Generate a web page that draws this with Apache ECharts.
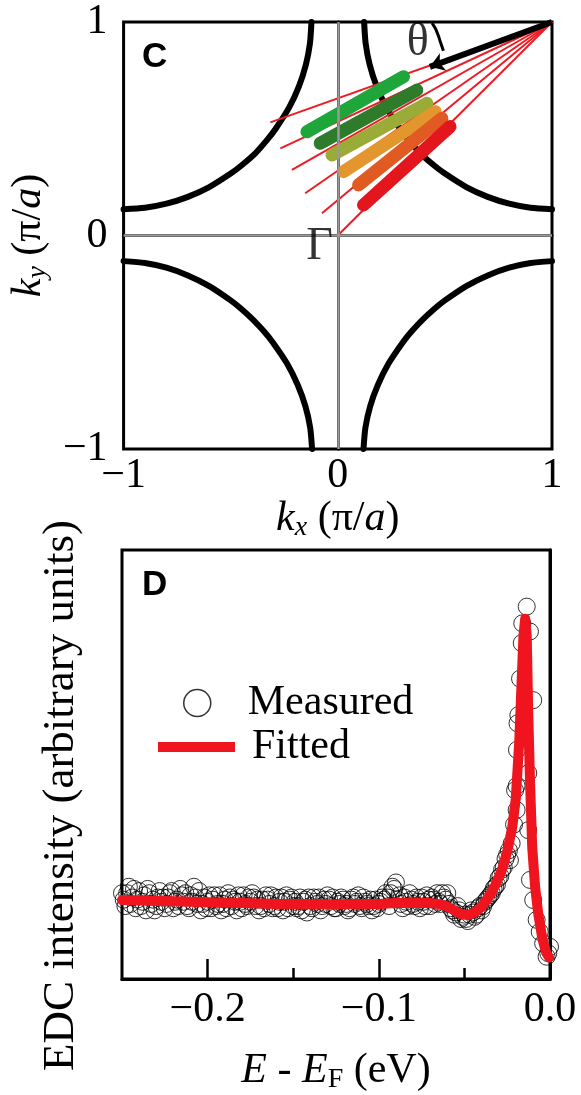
<!DOCTYPE html>
<html><head><meta charset="utf-8">
<script src="https://cdn.jsdelivr.net/npm/echarts@6/dist/echarts.min.js"></script>
<style>html,body{margin:0;padding:0;background:#fff}#c{width:581px;height:1095px}</style>
</head><body><div id="c"></div>
<script>
// ---------- Panel C data ----------
const kTicks = [-1, 0, 1];
const kTickLabels = ['\u22121', '0', '1'];
const arcUpperLeft = [[-1,0.123],[-0.9,0.13],[-0.8,0.149],[-0.7,0.181],[-0.6,0.227],[-0.5,0.29],[-0.45,0.328],[-0.385,0.385],[-0.328,0.45],[-0.29,0.5],[-0.227,0.6],[-0.181,0.7],[-0.149,0.8],[-0.13,0.9],[-0.123,1]];
const arcUpperRight = [[1,0.123],[0.9,0.13],[0.8,0.149],[0.7,0.181],[0.6,0.227],[0.5,0.29],[0.45,0.328],[0.385,0.385],[0.328,0.45],[0.29,0.5],[0.227,0.6],[0.181,0.7],[0.149,0.8],[0.13,0.9],[0.123,1]];
const arcLowerLeft = [[-1,-0.12],[-0.9,-0.129],[-0.8,-0.151],[-0.7,-0.187],[-0.6,-0.237],[-0.5,-0.304],[-0.45,-0.344],[-0.395,-0.395],[-0.344,-0.45],[-0.304,-0.5],[-0.237,-0.6],[-0.187,-0.7],[-0.151,-0.8],[-0.129,-0.9],[-0.12,-1]];
const arcLowerRight = [[1,-0.12],[0.9,-0.129],[0.8,-0.151],[0.7,-0.187],[0.6,-0.237],[0.5,-0.304],[0.45,-0.344],[0.395,-0.395],[0.344,-0.45],[0.304,-0.5],[0.237,-0.6],[0.187,-0.7],[0.151,-0.8],[0.129,-0.9],[0.12,-1]];
const cutOrigin = [1, 1];
const cutEnds = [[-0.315,0.53],[-0.268,0.408],[-0.214,0.307],[-0.152,0.198],[-0.074,0.104],[0,0]];
const bandStarts = [[-0.144,0.486],[-0.082,0.432],[-0.027,0.377],[0.027,0.299],[0.097,0.237],[0.12,0.143]];
const bandEnds = [[0.307,0.744],[0.369,0.681],[0.416,0.619],[0.455,0.58],[0.486,0.549],[0.524,0.51]];
const bandColors = ['#1fa63a','#2e7b2c','#9bab38','#e3962e','#e05a22','#e3161e'];
const zeroLines = [[[0,-1],[0,1]],[[-1,0],[1,0]]];
const thetaArrow = [[1,1],[0.43,0.79]];
const thetaArc = [[0.44,0.995],[0.457,0.968],[0.47,0.935],[0.481,0.9],[0.493,0.865]];
const annotations = [{text:'\u0393', at:[-0.085,-0.055]}, {text:'\u03b8', at:[0.373,0.9]}];

// ---------- Panel D data ----------
const eTicksMajor = [-0.2, -0.1, 0.0];
const eTickLabels = ['\u22120.2', '\u22120.1', '0.0'];
const eTicksMinor = [-0.15, -0.05];
const measured = [
[-0.250,0.20],[-0.248,0.17],[-0.246,0.215],[-0.244,0.19],[-0.242,0.165],[-0.240,0.205],[-0.238,0.18],[-0.236,0.16],[-0.234,0.2],[-0.232,0.185],
[-0.230,0.17],[-0.228,0.205],[-0.226,0.19],[-0.224,0.175],[-0.222,0.2],[-0.220,0.165],[-0.218,0.185],[-0.216,0.21],[-0.214,0.18],[-0.212,0.17],
[-0.210,0.195],[-0.208,0.215],[-0.206,0.175],[-0.204,0.16],[-0.202,0.19],[-0.200,0.18],[-0.198,0.165],[-0.196,0.195],[-0.194,0.175],[-0.192,0.16],
[-0.190,0.185],[-0.188,0.2],[-0.186,0.17],[-0.184,0.18],[-0.182,0.195],[-0.180,0.165],[-0.178,0.175],[-0.176,0.19],[-0.174,0.2],[-0.172,0.17],
[-0.170,0.16],[-0.168,0.185],[-0.166,0.195],[-0.164,0.175],[-0.162,0.165],[-0.160,0.19],[-0.158,0.18],[-0.156,0.16],[-0.154,0.195],[-0.152,0.185],
[-0.150,0.17],[-0.148,0.165],[-0.146,0.19],[-0.144,0.18],[-0.142,0.155],[-0.140,0.17],[-0.138,0.19],[-0.136,0.175],[-0.134,0.16],[-0.132,0.185],
[-0.130,0.195],[-0.128,0.17],[-0.126,0.165],[-0.124,0.18],[-0.122,0.19],[-0.120,0.17],[-0.118,0.16],[-0.116,0.185],[-0.114,0.175],[-0.112,0.195],
[-0.110,0.165],[-0.108,0.18],[-0.106,0.17],[-0.104,0.16],[-0.102,0.185],[-0.100,0.175],[-0.098,0.19],[-0.096,0.2],[-0.094,0.17],[-0.092,0.215],
[-0.090,0.225],[-0.088,0.195],[-0.086,0.165],[-0.084,0.18],[-0.082,0.2],[-0.080,0.175],[-0.078,0.19],[-0.076,0.165],[-0.074,0.18],[-0.072,0.195],
[-0.070,0.17],[-0.068,0.185],[-0.066,0.2],[-0.064,0.175],[-0.062,0.19],[-0.060,0.2],[-0.058,0.165],[-0.056,0.15],[-0.054,0.17],[-0.052,0.14],
[-0.050,0.15],[-0.048,0.135],[-0.046,0.16],[-0.044,0.145],[-0.042,0.165],[-0.040,0.16],[-0.038,0.18],[-0.036,0.19],[-0.034,0.2],[-0.032,0.215],
[-0.249,0.185],[-0.247,0.2],[-0.245,0.175],[-0.243,0.21],[-0.241,0.185],[-0.239,0.17],[-0.237,0.195],[-0.235,0.21],[-0.233,0.175],[-0.231,0.16],
[-0.229,0.19],[-0.227,0.18],[-0.225,0.165],[-0.223,0.19],[-0.221,0.205],[-0.219,0.18],[-0.217,0.17],[-0.215,0.195],[-0.213,0.2],[-0.211,0.165],
[-0.209,0.18],[-0.207,0.19],[-0.205,0.205],[-0.203,0.175],[-0.201,0.165],[-0.199,0.195],[-0.197,0.185],[-0.195,0.17],[-0.193,0.195],[-0.191,0.175],
[-0.189,0.165],[-0.187,0.19],[-0.185,0.185],[-0.183,0.16],[-0.181,0.18],[-0.179,0.195],[-0.177,0.17],[-0.175,0.18],[-0.173,0.19],[-0.171,0.185],
[-0.169,0.17],[-0.167,0.165],[-0.165,0.185],[-0.163,0.195],[-0.161,0.17],[-0.159,0.165],[-0.157,0.19],[-0.155,0.18],[-0.153,0.165],[-0.151,0.19],
[-0.149,0.18],[-0.147,0.17],[-0.145,0.16],[-0.143,0.185],[-0.141,0.19],[-0.139,0.165],[-0.137,0.18],[-0.135,0.19],[-0.133,0.17],[-0.131,0.175],
[-0.129,0.185],[-0.127,0.19],[-0.125,0.165],[-0.123,0.175],[-0.121,0.185],[-0.119,0.175],[-0.117,0.165],[-0.115,0.19],[-0.113,0.18],[-0.111,0.17],
[-0.109,0.19],[-0.107,0.175],[-0.105,0.185],[-0.103,0.17],[-0.101,0.165],[-0.099,0.18],[-0.097,0.185],[-0.095,0.19],[-0.093,0.2],[-0.091,0.21],
[-0.089,0.185],[-0.087,0.175],[-0.085,0.19],[-0.083,0.17],[-0.081,0.185],[-0.079,0.17],[-0.077,0.18],[-0.075,0.19],[-0.073,0.17],[-0.071,0.185],
[-0.069,0.19],[-0.067,0.175],[-0.065,0.18],[-0.063,0.2],[-0.061,0.185],[-0.059,0.175],[-0.057,0.16],[-0.055,0.155],[-0.053,0.16],[-0.051,0.145],
[-0.049,0.14],[-0.047,0.15],[-0.045,0.155],[-0.043,0.15],[-0.041,0.17],[-0.039,0.17],[-0.037,0.185],[-0.035,0.195],[-0.033,0.21],
[-0.031,0.22],[-0.030,0.235],[-0.029,0.24],[-0.028,0.255],[-0.027,0.26],[-0.026,0.28],[-0.025,0.29],[-0.024,0.3],[-0.0234,0.277],[-0.0224,0.316],
[-0.021,0.36],[-0.0204,0.44],[-0.0195,0.394],[-0.0195,0.45],[-0.0193,0.534],[-0.019,0.596],[-0.0185,0.615],[-0.0175,0.70],[-0.0165,0.783],[-0.0162,0.829],
[-0.0136,0.868],[-0.0117,0.81],[-0.0098,0.65],[-0.0127,0.48],[-0.0127,0.347],[-0.0117,0.231],[-0.0098,0.184],[-0.0078,0.138],[-0.006,0.11],[-0.004,0.083],
[-0.002,0.052],[-0.001,0.06],[0.0,0.075]
];
const fitted = [
[-0.25,0.184],[-0.24,0.183],[-0.23,0.182],[-0.22,0.181],[-0.21,0.18],[-0.20,0.179],[-0.19,0.178],[-0.18,0.177],[-0.17,0.176],[-0.16,0.175],
[-0.15,0.175],[-0.14,0.174],[-0.13,0.174],[-0.12,0.174],[-0.11,0.175],[-0.10,0.175],[-0.09,0.177],[-0.08,0.178],[-0.07,0.177],[-0.064,0.174],
[-0.06,0.169],[-0.056,0.16],[-0.052,0.151],[-0.048,0.149],[-0.044,0.155],[-0.04,0.168],[-0.036,0.19],[-0.032,0.218],[-0.028,0.255],[-0.025,0.297],
[-0.022,0.355],[-0.020,0.42],[-0.018,0.55],[-0.0165,0.7],[-0.0155,0.8],[-0.0145,0.84],[-0.0136,0.8],[-0.0127,0.62],[-0.0117,0.464],[-0.0104,0.308],
[-0.0087,0.215],[-0.0069,0.153],[-0.0045,0.095],[-0.0023,0.062],[-0.0005,0.05]
];

const SERIF = 'Liberation Serif';
const SANS = 'Liberation Sans';
const FS = 42;
const chart = echarts.init(document.getElementById('c'), null, {renderer: 'canvas'});

function richSet(subPad) {
  return {
    i: {fontFamily: SERIF, fontSize: FS, fontStyle: 'italic', color: '#000'},
    n: {fontFamily: SERIF, fontSize: FS, color: '#000'},
    t: {fontFamily: SERIF, fontSize: 45, fontWeight: 'normal', color: '#000'},
    gap: {width: 62},
    s: {fontFamily: SERIF, fontSize: 28, fontStyle: 'italic', color: '#000', padding: [subPad, 0, 0, 0]},
    f: {fontFamily: SERIF, fontSize: 28, color: '#000', padding: [subPad, 0, 0, 0]}
  };
}

const arcSeries = [arcUpperLeft, arcUpperRight, arcLowerLeft, arcLowerRight].map(a => ({
  type: 'line', xAxisIndex: 0, yAxisIndex: 0, data: a, smooth: 0.25, symbol: 'none', z: 2,
  lineStyle: {color: '#000', width: 6, cap: 'round', join: 'round'}, silent: true
}));

const option = {
  animation: false,
  backgroundColor: '#fff',
  title: [
    {text: 'C', left: 137, top: 35, textStyle: {fontFamily: SANS, fontWeight: 'bold', fontSize: 35, color: '#000'}},
    {text: 'D', left: 137, top: 563, textStyle: {fontFamily: SANS, fontWeight: 'bold', fontSize: 35, color: '#000'}}
  ],
  legend: [
    {data: [{name: 'Measured', icon: 'circle', itemStyle: {color: 'rgba(0,0,0,0)', borderColor: '#000', borderWidth: 1.5}}],
     left: 178, top: 677, itemWidth: 27, itemHeight: 27, selectedMode: false,
     textStyle: {fontFamily: SERIF, fontSize: FS, color: '#000', padding: [0, 0, 0, 32]}},
    {data: [{name: 'Fitted', icon: 'rect', itemStyle: {color: '#f0141e'}}],
     left: 153, top: 721, itemWidth: 77, itemHeight: 10, selectedMode: false,
     textStyle: {fontFamily: SERIF, fontSize: FS, color: '#000', padding: [0, 0, 0, 12]}}
  ],
  grid: [
    {left: 123, top: 22, width: 429, height: 427, show: true, borderColor: '#000', borderWidth: 3, backgroundColor: 'transparent'},
    {left: 122, top: 550, width: 428, height: 429, show: true, borderColor: '#000', borderWidth: 3, backgroundColor: 'transparent'}
  ],
  xAxis: [
    {gridIndex: 0, type: 'value', min: kTicks[0], max: kTicks[2], interval: 1,
     axisLine: {show: true, lineStyle: {color: '#000', width: 3}}, axisTick: {show: false}, splitLine: {show: false},
     axisLabel: {fontFamily: SERIF, fontSize: FS, color: '#000', margin: 6, formatter: v => kTickLabels[kTicks.indexOf(v)]},
     name: '{i|k}{s|x}{n| (\u03c0/}{i|a}{n|)}', nameLocation: 'middle', nameGap: 46,
     nameTextStyle: {fontFamily: SERIF, fontSize: FS, color: '#000', rich: richSet(18)}},
    {gridIndex: 1, type: 'value', min: -0.25, max: 0,
     axisLine: {show: true, lineStyle: {color: '#000', width: 3}},
     axisTick: {show: true, inside: true, length: 20, customValues: eTicksMajor, lineStyle: {color: '#000', width: 2.5}},
     splitLine: {show: false},
     axisLabel: {fontFamily: SERIF, fontSize: FS, color: '#000', margin: 10, customValues: eTicksMajor,
                 formatter: v => eTickLabels[eTicksMajor.findIndex(t => Math.abs(t - v) < 1e-9)]},
     name: '{i|E}{n| - }{i|E}{f|F}{n| (eV)}', nameLocation: 'middle', nameGap: 69,
     nameTextStyle: {fontFamily: SERIF, fontSize: FS, color: '#000', rich: richSet(18)}},
    {gridIndex: 1, type: 'value', min: -0.25, max: 0, position: 'bottom',
     axisLine: {show: false}, axisLabel: {show: false}, splitLine: {show: false},
     axisTick: {show: true, inside: true, length: 11, customValues: eTicksMinor, lineStyle: {color: '#000', width: 2.5}}}
  ],
  yAxis: [
    {gridIndex: 0, type: 'value', min: kTicks[0], max: kTicks[2], interval: 1,
     axisLine: {show: true, lineStyle: {color: '#000', width: 3}}, axisTick: {show: false}, splitLine: {show: false},
     axisLabel: {fontFamily: SERIF, fontSize: FS, color: '#000', margin: 16, formatter: v => kTickLabels[kTicks.indexOf(v)]},
     name: '{i|k}{s|y}{n| (\u03c0/}{i|a}{n|)}', nameLocation: 'middle', nameGap: 28,
     nameTextStyle: {fontFamily: SERIF, fontSize: FS, color: '#000', rich: richSet(18)}},
    {gridIndex: 1, type: 'value', min: 0, max: 1,
     axisLine: {show: true, lineStyle: {color: '#000', width: 3}}, axisTick: {show: false}, splitLine: {show: false},
     axisLabel: {show: false},
     name: '{t|EDC intensity (arbitrary units)}{gap|}', nameLocation: 'middle', nameGap: 38,
     nameTextStyle: {fontFamily: SERIF, fontSize: 45, color: '#000', rich: richSet(18)}}
  ],
  series: [
    ...arcSeries,
    {type: 'lines', coordinateSystem: 'cartesian2d', xAxisIndex: 0, yAxisIndex: 0, z: 3, silent: true,
     lineStyle: {color: '#ee1b24', width: 2, opacity: 1},
     data: cutEnds.map(e => ({coords: [cutOrigin, e]}))},
    {type: 'lines', coordinateSystem: 'cartesian2d', xAxisIndex: 0, yAxisIndex: 0, z: 4, silent: true,
     lineStyle: {width: 13, opacity: 1, cap: 'round'},
     data: bandStarts.map((s, i) => ({coords: [s, bandEnds[i]], lineStyle: {color: bandColors[i], width: 13, opacity: 1, cap: 'round'}}))},
    {type: 'lines', coordinateSystem: 'cartesian2d', xAxisIndex: 0, yAxisIndex: 0, z: 5, silent: true,
     lineStyle: {color: '#9a9a9a', width: 2.5, opacity: 1},
     data: zeroLines.map(c => ({coords: c}))},
    {type: 'lines', coordinateSystem: 'cartesian2d', xAxisIndex: 0, yAxisIndex: 0, z: 6, silent: true,
     symbol: ['none', 'arrow'], symbolSize: 14,
     lineStyle: {color: '#000', width: 6, opacity: 1},
     data: [{coords: thetaArrow}]},
    {type: 'lines', coordinateSystem: 'cartesian2d', xAxisIndex: 0, yAxisIndex: 0, z: 6, silent: true, polyline: true,
     symbol: ['none', 'arrow'], symbolSize: 12,
     lineStyle: {color: '#000', width: 3, opacity: 1},
     data: [{coords: thetaArc}]},
    {type: 'scatter', xAxisIndex: 0, yAxisIndex: 0, z: 7, silent: true, symbolSize: 1,
     itemStyle: {color: 'rgba(0,0,0,0)'},
     label: {show: true, position: 'inside', formatter: p => p.data.name, fontFamily: SERIF, fontSize: 46, color: '#000'},
     data: annotations.map(a => ({name: a.text, value: a.at}))},
    {name: 'Measured', type: 'scatter', xAxisIndex: 1, yAxisIndex: 1, z: 3, clip: false, silent: true,
     symbol: 'circle', symbolSize: 17,
     itemStyle: {color: 'rgba(0,0,0,0)', borderColor: '#000', borderWidth: 1},
     data: measured},
    {name: 'Fitted', type: 'line', xAxisIndex: 1, yAxisIndex: 1, z: 4, symbol: 'none', silent: true,
     color: '#f0141e', itemStyle: {color: '#f0141e'},
     lineStyle: {color: '#f0141e', width: 10, cap: 'round', join: 'round'},
     data: fitted}
  ]
};
chart.setOption(option);
</script>
</body></html>
